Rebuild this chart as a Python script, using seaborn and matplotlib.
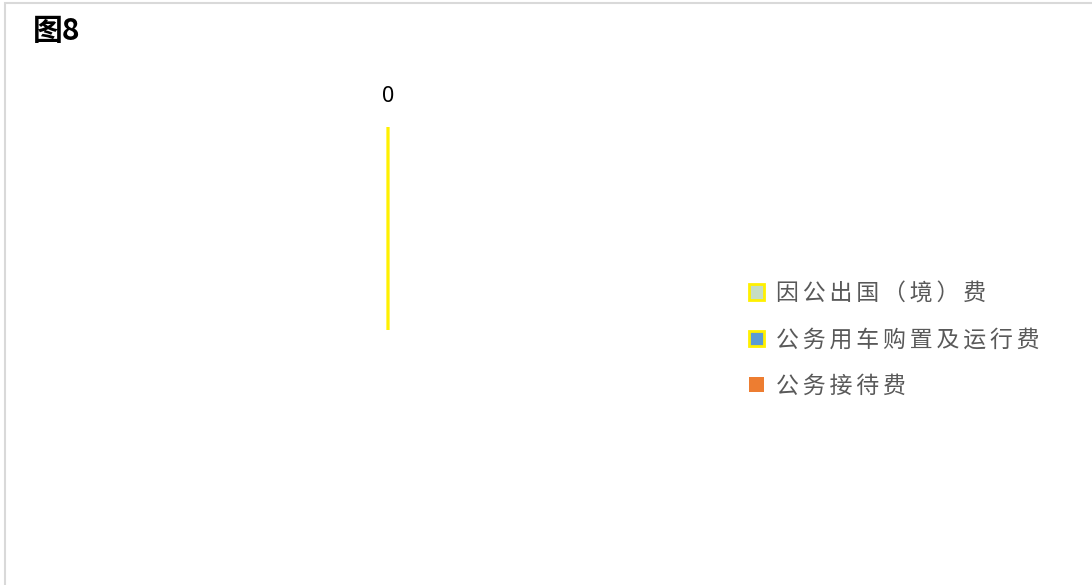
import matplotlib
matplotlib.use('Agg')
import matplotlib.pyplot as plt
from matplotlib.patches import Rectangle
import seaborn as sns

# ─── DATA ─────────────────────────────────────────────────────────────────────

title = '图8'
categories = ['因公出国（境）费', '公务用车购置及运行费', '公务接待费']
values = [0, 0, 0]
colors = ['#C6DDC4', '#5B9BD5', '#ED7D31']
edge_colors = ['#FFF000', '#FFF000', 'none']

# ─── STYLE ────────────────────────────────────────────────────────────────────

sns.set_theme(style='white')
plt.rcParams['font.family'] = ['Noto Sans CJK SC', 'DejaVu Sans']

W, H = 1092, 585
fig = plt.figure(figsize=(W / 100, H / 100), dpi=100)
fig.patch.set_facecolor('white')

# pie centre (388, 330) px, radius 203 px, axes spans -1.2..1.2
r_px = 203
half = 1.2 * r_px
ax = fig.add_axes([(388 - half) / W, (H - 330 - half) / H, 2 * half / W, 2 * half / H])

# all values are zero -> unnormalised pie draws zero-angle wedges at the start angle
wedges, _ = ax.pie(values, colors=colors, normalize=False, startangle=90,
                   counterclock=False, wedgeprops=dict(linewidth=2.0))
for w, ec in zip(wedges, edge_colors):
    w.set_edgecolor(ec)
ax.set_xlim(-1.2, 1.2)
ax.set_ylim(-1.2, 1.2)
ax.set_aspect('equal')
ax.axis('off')

# data label (total)
ax.text(0, 1.148, f'{sum(values):g}', ha='center', va='center',
        fontsize=15.5, color='#000000', family=['Noto Sans', 'DejaVu Sans'])

# legend, letter-spaced like the original
spaced = ['\u2006'.join(c) for c in categories]
leg = fig.legend(wedges, spaced, loc='center left',
                 bbox_to_anchor=(749 / W, 1 - 340 / H),
                 frameon=False, fontsize=16.5, labelcolor='#595959',
                 handlelength=0.64, handleheight=0.64, handletextpad=0.55,
                 labelspacing=1.02, borderpad=0, borderaxespad=0)

# title
fig.text(33 / W, 1 - 31 / H, title, ha='left', va='center',
         fontsize=21.5, fontweight='bold', color='#000000')

# outer chart border
fig.add_artist(Rectangle((5 / W, -0.05), 1.2, 1.05 - 3 / H, transform=fig.transFigure,
                         fill=False, edgecolor='#D9D9D9', linewidth=1.5))

fig.savefig('out.png', dpi=100, facecolor='white')
